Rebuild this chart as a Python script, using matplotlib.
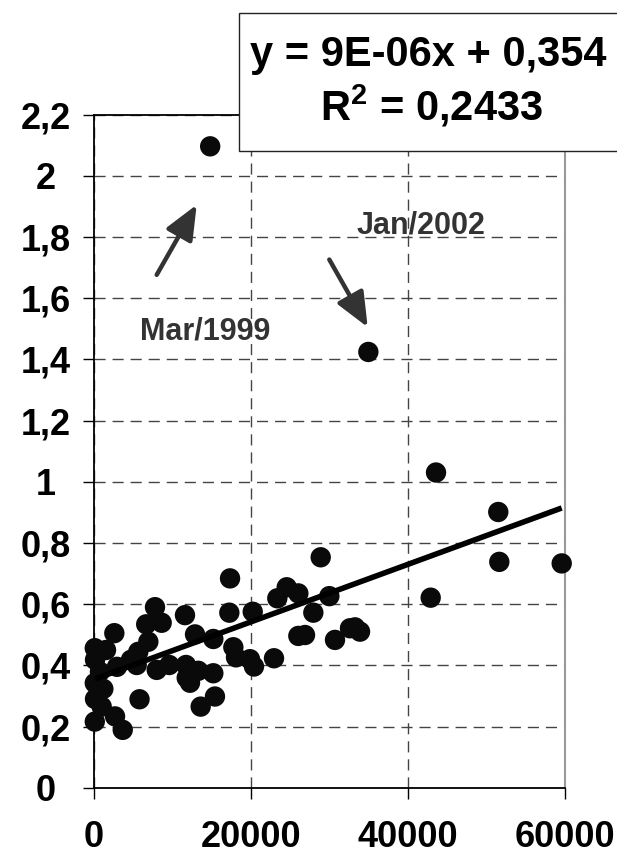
import matplotlib
matplotlib.use('Agg')
import matplotlib.pyplot as plt
from matplotlib.patches import Rectangle

# ---------------- data ----------------
x_values = [14800, 34950, 43570, 51500, 51630, 59580, 42890, 28880, 24550, 26030,
            23350, 29980, 27940, 26030, 26880, 30700, 32610, 33250, 33890, 17330,
            17240, 20220, 11590, 12870, 15200, 17750, 18090, 19870, 20380, 22930,
            11720, 11810, 12230, 13290, 15200, 15410, 13590, 7770, 6650, 8620,
            2590, 100, 1530, 6920, 5640, 4710, 2930, 5440, 7990, 9590,
            100, 1190, 5800, 980, 100, 2680, 3660, 130, 760, 130]
y_values = [2.096, 1.424, 1.030, 0.901, 0.738, 0.733, 0.621, 0.753, 0.655, 0.635,
            0.619, 0.626, 0.572, 0.496, 0.499, 0.483, 0.521, 0.524, 0.510, 0.684,
            0.572, 0.575, 0.564, 0.501, 0.486, 0.459, 0.426, 0.420, 0.396, 0.423,
            0.401, 0.359, 0.343, 0.382, 0.374, 0.298, 0.265, 0.590, 0.534, 0.539,
            0.505, 0.456, 0.450, 0.477, 0.444, 0.418, 0.395, 0.401, 0.385, 0.401,
            0.342, 0.323, 0.289, 0.265, 0.216, 0.233, 0.189, 0.418, 0.379, 0.290]

trend_slope = 9.4e-6
trend_intercept = 0.354

x_ticks = [0, 20000, 40000, 60000]
x_tick_labels = ["0", "20000", "40000", "60000"]
y_ticks = [0, 0.2, 0.4, 0.6, 0.8, 1.0, 1.2, 1.4, 1.6, 1.8, 2.0, 2.2]
y_tick_labels = ["0", "0,2", "0,4", "0,6", "0,8", "1", "1,2", "1,4", "1,6", "1,8", "2", "2,2"]

equation_text = "y = 9E-06x + 0,354"
r2_text = r"$\mathbf{R}^{\mathbf{2}}$ = 0,2433"

annotations = [
    # label, text position, arrow tail, arrow tip
    ("Mar/1999", (14140, 1.491), (7987, 1.676), (13083, 1.905)),
    ("Jan/2002", (41656, 1.837), (29975, 1.726), (34866, 1.505)),
]

# ---------------- figure ----------------
plt.rcParams['font.family'] = ['Liberation Sans', 'DejaVu Sans']
plt.rcParams['font.weight'] = 'bold'
plt.rcParams['mathtext.fontset'] = 'custom'
plt.rcParams['mathtext.rm'] = 'Liberation Sans:bold'
plt.rcParams['mathtext.bf'] = 'Liberation Sans:bold'

W, H = 617, 859
fig = plt.figure(figsize=(W / 100, H / 100), dpi=100)
left, right, top, bottom = 94, 565, 114.5, 787.7
ax = fig.add_axes([left / W, 1 - bottom / H, (right - left) / W, (bottom - top) / H])

ax.set_xlim(0, 60000)
ax.set_ylim(0, 2.2)

ax.set_axisbelow(True)
ax.grid(True, linestyle=(0, (8, 5)), color='#444444', linewidth=1.0)

ax.scatter(x_values, y_values, s=215, color='#0a0a0a', edgecolors='none', zorder=3, clip_on=False)

xmin, xmax = min(x_values), max(x_values)
ax.plot([xmin, xmax], [trend_slope * xmin + trend_intercept, trend_slope * xmax + trend_intercept],
        color='black', linewidth=4.0, solid_capstyle='butt', zorder=4)

for label, tpos, tail, tip in annotations:
    ax.annotate('', xy=tip, xytext=tail,
                arrowprops=dict(arrowstyle='-|>,head_length=0.7,head_width=0.3',
                                color='#333333', lw=3.2, mutation_scale=30,
                                shrinkA=0, shrinkB=0), zorder=5)
    ax.text(tpos[0], tpos[1], label, ha='center', va='center', fontsize=22,
            fontweight='bold', color='#333333', zorder=5)

ax.set_xticks(x_ticks)
ax.set_xticklabels(x_tick_labels)
ax.set_yticks(y_ticks)
ax.set_yticklabels(y_tick_labels)
ax.tick_params(axis='both', direction='out', length=8, width=1, colors='black', labelsize=26)
ax.tick_params(axis='x', pad=15)
ax.tick_params(axis='y', pad=27)
for lab in ax.get_yticklabels():
    lab.set_horizontalalignment('center')

for s in ['left', 'bottom', 'top']:
    ax.spines[s].set_color('black')
    ax.spines[s].set_linewidth(1.3)
ax.spines['right'].set_color('#999999')
ax.spines['right'].set_linewidth(1.5)

# equation box
box_l, box_t, box_b = 239, 13, 151
fig.add_artist(Rectangle((box_l / W, 1 - box_b / H), (W + 10 - box_l) / W, (box_b - box_t) / H,
                         transform=fig.transFigure, facecolor='white', edgecolor='#222222',
                         linewidth=1.0, zorder=10))
fig.text(428 / W, 1 - 55 / H, equation_text, ha='center', va='center', fontsize=30,
         fontweight='bold', color='black', zorder=11)
fig.text(432 / W, 1 - 106 / H, r2_text, ha='center', va='center', fontsize=30,
         fontweight='bold', color='black', zorder=11)

fig.savefig('out.png', dpi=100)
